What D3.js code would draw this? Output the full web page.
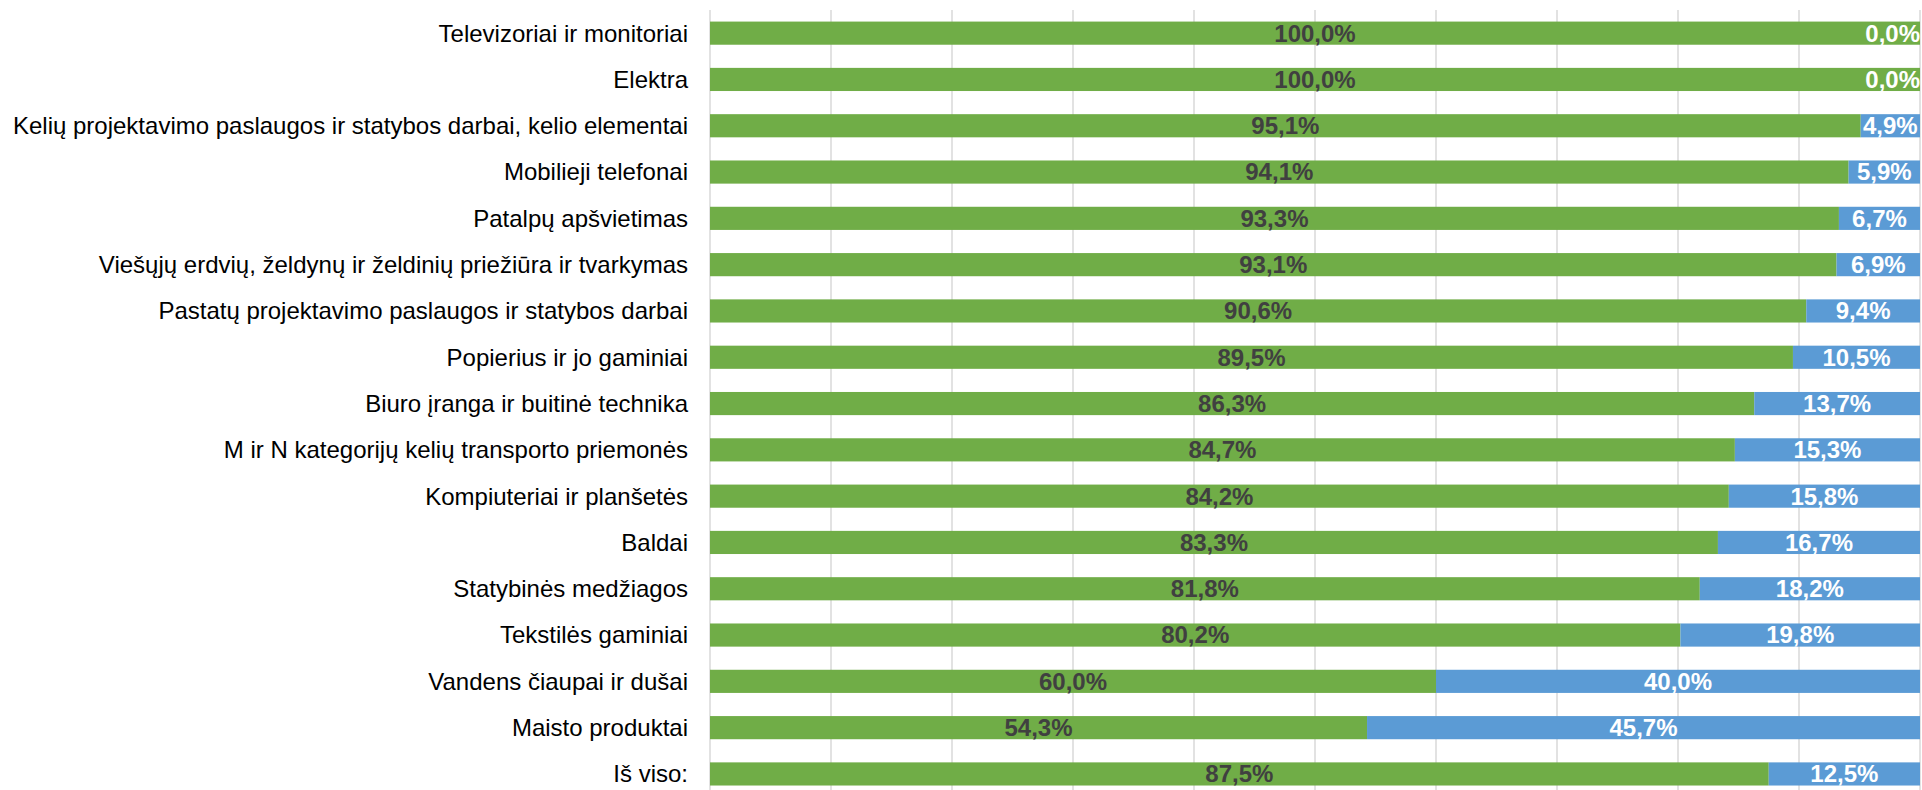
<!doctype html>
<html lang="lt">
<head>
<meta charset="utf-8">
<title>Žaliųjų pirkimų dalis</title>
<script src="https://d3js.org/d3.v7.min.js"></script>
<style>
    html, body { margin: 0; padding: 0; background: #fff; overflow: hidden; }
    svg { display: block; }
</style>
</head>
<body>
<script>
    const categories = [
        "Televizoriai ir monitoriai",
        "Elektra",
        "Kelių projektavimo paslaugos ir statybos darbai, kelio elementai",
        "Mobilieji telefonai",
        "Patalpų apšvietimas",
        "Viešųjų erdvių, želdynų ir želdinių priežiūra ir tvarkymas",
        "Pastatų projektavimo paslaugos ir statybos darbai",
        "Popierius ir jo gaminiai",
        "Biuro įranga ir buitinė technika",
        "M ir N kategorijų kelių transporto priemonės",
        "Kompiuteriai ir planšetės",
        "Baldai",
        "Statybinės medžiagos",
        "Tekstilės gaminiai",
        "Vandens čiaupai ir dušai",
        "Maisto produktai",
        "Iš viso:"
    ]
    const greenValues = [100.0, 100.0, 95.1, 94.1, 93.3, 93.1, 90.6, 89.5, 86.3, 84.7, 84.2, 83.3, 81.8, 80.2, 60.0, 54.3, 87.5]
    const blueValues = [0.0, 0.0, 4.9, 5.9, 6.7, 6.9, 9.4, 10.5, 13.7, 15.3, 15.8, 16.7, 18.2, 19.8, 40.0, 45.7, 12.5]
    const gridTicks = [10, 20, 30, 40, 50, 60, 70, 80, 90, 100]

    const width = 1922
    const height = 790
    const plotLeft = 710, plotRight = 1920, plotTop = 10

    const svg = d3.select("body").append("svg")
        .attr("width", width)
        .attr("height", height)
        .attr("font-family", "'Liberation Sans', Arial, sans-serif")

    let x = d3.scaleLinear().domain([0, 100]).range([plotLeft, plotRight])
    let y = d3.scaleBand()
        .domain(categories)
        .range([plotTop, plotTop + 17 * 46.3])
        .paddingInner(0.5)
        .paddingOuter(0.25)

    // vertical gridlines
    svg.append("g")
        .selectAll("line")
        .data(gridTicks)
        .join("line")
        .attr("x1", d => x(d)).attr("x2", d => x(d))
        .attr("y1", plotTop).attr("y2", height)
        .attr("stroke", "#d9d9d9")
        .attr("stroke-width", 1.5)

    // category axis line
    svg.append("line")
        .attr("x1", x(0)).attr("x2", x(0))
        .attr("y1", plotTop).attr("y2", height)
        .attr("stroke", "#d9d9d9")
        .attr("stroke-width", 1.5)

    const rows = categories.map((c, i) => ({ cat: c, g: greenValues[i], b: blueValues[i] }))

    svg.append("g")
        .selectAll("rect")
        .data(rows)
        .join("rect")
        .attr("x", x(0))
        .attr("y", d => y(d.cat))
        .attr("width", d => x(d.g) - x(0))
        .attr("height", y.bandwidth())
        .attr("fill", "#70ad47")

    svg.append("g")
        .selectAll("rect")
        .data(rows)
        .join("rect")
        .attr("x", d => x(d.g))
        .attr("y", d => y(d.cat))
        .attr("width", d => x(d.g + d.b) - x(d.g))
        .attr("height", y.bandwidth())
        .attr("fill", "#5b9bd5")

    // category labels
    svg.append("g")
        .selectAll("text")
        .data(rows)
        .join("text")
        .attr("x", x(0) - 22)
        .attr("y", d => y(d.cat) + y.bandwidth() / 2)
        .attr("dy", "0.35em")
        .attr("text-anchor", "end")
        .attr("font-size", 24)
        .attr("fill", "#000")
        .text(d => d.cat)

    const fmt = v => v.toFixed(1).replace(".", ",") + "%"

    // value labels
    svg.append("g")
        .selectAll("text")
        .data(rows)
        .join("text")
        .attr("x", d => (x(0) + x(d.g)) / 2)
        .attr("y", d => y(d.cat) + y.bandwidth() / 2)
        .attr("dy", "0.35em")
        .attr("text-anchor", "middle")
        .attr("font-size", 24)
        .attr("font-weight", "bold")
        .attr("fill", "#404040")
        .text(d => fmt(d.g))

    svg.append("g")
        .selectAll("text")
        .data(rows)
        .join("text")
        .attr("y", d => y(d.cat) + y.bandwidth() / 2)
        .attr("dy", "0.35em")
        .attr("text-anchor", "middle")
        .attr("font-size", 24)
        .attr("font-weight", "bold")
        .attr("fill", "#fff")
        .text(d => fmt(d.b))
        .attr("x", function (d) {
            let cx = (x(d.g) + x(d.g + d.b)) / 2
            let w = this.getComputedTextLength()
            return Math.min(cx, plotRight - w / 2)
        })
</script>
</body>
</html>
